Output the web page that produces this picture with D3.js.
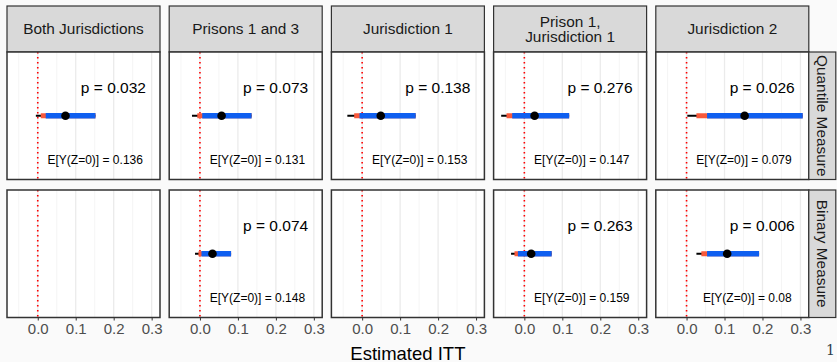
<!DOCTYPE html>
<html>
<head>
<meta charset="utf-8">
<script src="https://cdn.jsdelivr.net/npm/d3@7"></script>
<style>
  body { margin: 0; background: #fafafa; }
  svg { display: block; font-family: "Liberation Sans", Arial, sans-serif; }
</style>
</head>
<body>
<svg id="chart" width="837" height="362"></svg>
<script>
// facet columns and rows
const panels = ["Both Jurisdictions", "Prisons 1 and 3", "Jurisdiction 1", "Prison 1,|Jurisdiction 1", "Jurisdiction 2"];
const measures = ["Quantile Measure", "Binary Measure"];

// Quantile measure
const quantEst     = [0.073, 0.057, 0.049, 0.027, 0.153];
const quantBlackLo = [-0.005, -0.021, -0.039, -0.061, 0.002];
const quantRedLo   = [0.008, -0.007, -0.021, -0.047, 0.026];
const quantBlueLo  = [0.021, 0.006, -0.007, -0.032, 0.054];
const quantHi      = [0.152, 0.136, 0.141, 0.118, 0.306];
const quantP       = ["0.032", "0.073", "0.138", "0.276", "0.026"];
const quantBase    = ["0.136", "0.131", "0.153", "0.147", "0.079"];

// Binary measure
const binEst     = [null, 0.033, null, 0.018, 0.107];
const binBlackLo = [null, -0.013, null, -0.035, 0.026];
const binRedLo   = [null, -0.004, null, -0.026, 0.039];
const binBlueLo  = [null, 0.004, null, -0.017, 0.054];
const binHi      = [null, 0.082, null, 0.072, 0.191];
const binP       = [null, "0.074", null, "0.263", "0.006"];
const binBase    = [null, "0.148", null, "0.159", "0.08"];

const tickVals = [0, 0.1, 0.2, 0.3];
const tickLabels = ["0.0", "0.1", "0.2", "0.3"];
const minorVals = [-0.05, 0.05, 0.15, 0.25];

const rows = [
  { est: quantEst, blk: quantBlackLo, red: quantRedLo, blue: quantBlueLo, hi: quantHi, p: quantP, base: quantBase },
  { est: binEst, blk: binBlackLo, red: binRedLo, blue: binBlueLo, hi: binHi, p: binP, base: binBase }
];

const svg = d3.select("#chart");
const left0 = 7, step = 162.2, pw = 153;
const stripTop = 6, stripH = 46;
const rowTops = [52, 190], ph = 127.5;
const rStripW = 27;

const x = d3.scaleLinear().domain([-0.081, 0.322]).range([0, pw]);
const y = d3.scaleBand().domain([0]).range([0, ph]);

panels.forEach((name, i) => {
  const gx = left0 + i * step;

  // top strip
  const st = svg.append("g").attr("transform", `translate(${gx},${stripTop})`);
  st.append("rect").attr("width", pw).attr("height", stripH)
    .attr("fill", "#d9d9d9").attr("stroke", "#333").attr("stroke-width", 1.2);
  const lines = name.split("|");
  lines.forEach((l, k) => {
    st.append("text").attr("x", pw / 2)
      .attr("y", stripH / 2 + (k - (lines.length - 1) / 2) * 15.5 + 5.3)
      .attr("text-anchor", "middle").attr("font-size", 15.4).attr("fill", "#1a1a1a").text(l);
  });

  rows.forEach((r, j) => {
    const g = svg.append("g").attr("transform", `translate(${gx},${rowTops[j]})`);
    g.append("rect").attr("width", pw).attr("height", ph).attr("fill", "#fff");

    g.selectAll(".minor").data(minorVals).enter().append("line")
      .attr("x1", d => x(d)).attr("x2", d => x(d)).attr("y1", 0).attr("y2", ph)
      .attr("stroke", "#f2f2f2").attr("stroke-width", 0.8);
    g.selectAll(".major").data(tickVals).enter().append("line")
      .attr("x1", d => x(d)).attr("x2", d => x(d)).attr("y1", 0).attr("y2", ph)
      .attr("stroke", "#ebebeb").attr("stroke-width", 1.3);

    // zero reference
    g.append("line").attr("x1", x(0)).attr("x2", x(0)).attr("y1", 0).attr("y2", ph)
      .attr("stroke", "#ff0000").attr("stroke-width", 1.6).attr("stroke-dasharray", "1.6,3.4");

    if (r.est[i] !== null) {
      const cy = y(0) + y.bandwidth() / 2;
      g.append("line").attr("x1", x(r.blk[i])).attr("x2", x(r.hi[i])).attr("y1", cy).attr("y2", cy)
        .attr("stroke", "#000").attr("stroke-width", 1.8);
      g.append("line").attr("x1", x(r.red[i])).attr("x2", x(r.hi[i])).attr("y1", cy).attr("y2", cy)
        .attr("stroke", "#f8593b").attr("stroke-width", 5);
      g.append("line").attr("x1", x(r.blue[i])).attr("x2", x(r.hi[i])).attr("y1", cy).attr("y2", cy)
        .attr("stroke", "#0f5ff0").attr("stroke-width", 5.5);
      g.append("circle").attr("cx", x(r.est[i])).attr("cy", cy).attr("r", 4.3).attr("fill", "#000");

      g.append("text").attr("x", x(0.285)).attr("y", 40.5).attr("text-anchor", "end")
        .attr("font-size", 15.5).attr("fill", "#000").text("p = " + r.p[i]);
      g.append("text").attr("x", x(0.277)).attr("y", 112.3).attr("text-anchor", "end")
        .attr("font-size", 12).attr("fill", "#000").text("E[Y(Z=0)] = " + r.base[i]);
    }

    g.append("rect").attr("width", pw).attr("height", ph)
      .attr("fill", "none").attr("stroke", "#333").attr("stroke-width", 1.5);

    if (j === 1) {
      const ax = g.append("g").attr("transform", `translate(0,${ph})`)
        .call(d3.axisBottom(x).tickValues(tickVals).tickFormat((d, k) => tickLabels[k])
          .tickSize(3).tickPadding(3));
      ax.select(".domain").remove();
      ax.selectAll("line").attr("stroke", "#333");
      ax.selectAll("text").attr("font-size", 15).attr("fill", "#4d4d4d")
        .attr("font-family", "Liberation Sans, Arial, sans-serif");
    }
  });
});

// right strips
const rsx = left0 + 4 * step + pw;
measures.forEach((m, j) => {
  const g = svg.append("g").attr("transform", `translate(${rsx},${rowTops[j]})`);
  g.append("rect").attr("width", rStripW).attr("height", ph)
    .attr("fill", "#d9d9d9").attr("stroke", "#333").attr("stroke-width", 1.2);
  g.append("text").attr("transform", `translate(${rStripW / 2 - 5.3},${ph / 2}) rotate(90)`)
    .attr("text-anchor", "middle").attr("font-size", 15.4).attr("fill", "#1a1a1a").text(m);
});

// axis title
svg.append("text").attr("x", (left0 + rsx) / 2).attr("y", 359.5)
  .attr("text-anchor", "middle").attr("font-size", 18.5).attr("fill", "#000").text("Estimated ITT");

// page number
svg.append("text").attr("x", 826).attr("y", 355)
  .attr("font-family", "DejaVu Serif, serif").attr("font-size", 14).attr("fill", "#2f3f4a").text("1");
</script>
</body>
</html>
